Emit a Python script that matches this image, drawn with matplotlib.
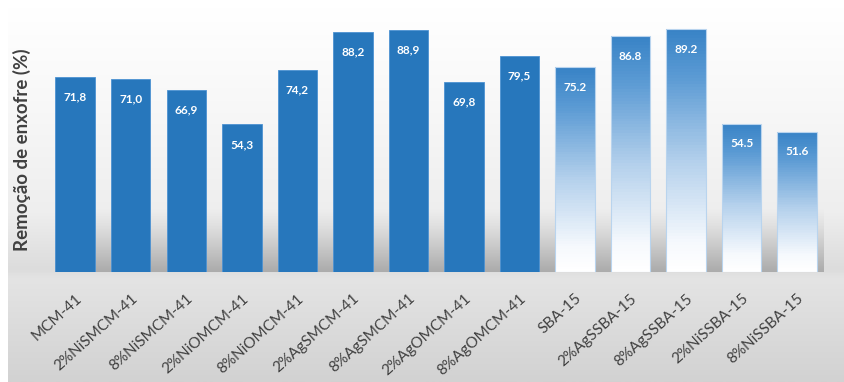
import matplotlib.pyplot as plt
import numpy as np
from matplotlib.colors import LinearSegmentedColormap

# ── Dados ───────────────────────────────────────────────────────────────────
amostras = [
    "MCM-41", "2%NiSMCM-41", "8%NiSMCM-41", "2%NiOMCM-41", "8%NiOMCM-41",
    "2%AgSMCM-41", "8%AgSMCM-41", "2%AgOMCM-41", "8%AgOMCM-41",
    "SBA-15", "2%AgSSBA-15", "8%AgSSBA-15", "2%NiSSBA-15", "8%NiSSBA-15",
]
remocao = [71.8, 71.0, 66.9, 54.3, 74.2, 88.2, 88.9, 69.8, 79.5,
           75.2, 86.8, 89.2, 54.5, 51.6]
rotulos = ["71,8", "71,0", "66,9", "54,3", "74,2", "88,2", "88,9", "69,8", "79,5",
           "75.2", "86.8", "89.2", "54.5", "51.6"]
suporte = ["MCM"] * 9 + ["SBA"] * 5

AZUL = "#2777bc"
CINZA_TXT = "#404040"
plt.rcParams["font.family"] = ["Lato", "DejaVu Sans"]

W, H = 844, 382
fig = plt.figure(figsize=(W / 100, H / 100), dpi=100)
fig.patch.set_facecolor("white")

# ── Fundo em degradê ────────────────────────────────────────────────────────
bg = fig.add_axes([8 / W, 0, (W - 8) / W, (H - 7) / H])
bg.set_axis_off()
cmap_bg = LinearSegmentedColormap.from_list(
    "fundo",
    [(0.0, "#ffffff"), (0.25, "#f8f8f8"), (0.55, "#eeeeee"), (0.70, "#dcdcdc"),
     (0.725, "#e4e4e4"), (1.0, "#d2d2d2")],
)
bg.imshow(np.linspace(0, 1, 400).reshape(-1, 1), aspect="auto", cmap=cmap_bg,
          extent=(0, 1, 0, 1), vmin=0, vmax=1)
bg.set_xlim(0, 1)
bg.set_ylim(0, 1)

# ── Eixo principal ──────────────────────────────────────────────────────────
base_px = 272
escala = 2.72
ymax = 95
x0_px, x1_px = 38, 826
ax = fig.add_axes([x0_px / W, (H - base_px) / H, (x1_px - x0_px) / W,
                   ymax * escala / H])
ax.set_facecolor("none")
for s in ax.spines.values():
    s.set_visible(False)

n = len(amostras)
x = np.arange(n)
larg = 0.71

# sombra projetada atrás das barras
sombra = np.zeros((100, 1, 4))
sombra[..., :3] = 0.42
sombra[:, 0, 3] = np.linspace(0.55, 0.0, 100) ** 1.4
ax.imshow(sombra, aspect="auto", origin="lower",
          extent=(-larg / 2, n - 1 + larg / 2 + 0.12, 0, 24), zorder=1)

# degradê das barras SBA-15 (faixas horizontais finas)
cmap_sba = LinearSegmentedColormap.from_list(
    "sba", [(0.0, "#ffffff"), (0.12, "#f6f9fd"), (0.45, "#b5d1ec"),
            (0.8, "#5c9bd4"), (1.0, "#3883c6")])
nfx = 80
fr = np.linspace(0, 1, nfx + 1)

for xi, v, sup in zip(x, remocao, suporte):
    if sup == "MCM":
        ax.bar(xi, v, width=larg, color=AZUL, edgecolor="#4d92d2",
               linewidth=0.6, zorder=3)
    else:
        ax.bar(np.full(nfx, xi), np.diff(fr) * v, bottom=fr[:-1] * v,
               width=larg, color=cmap_sba((fr[:-1] + fr[1:]) / 2),
               linewidth=0, zorder=3)
        ax.bar(xi, v, width=larg, facecolor="none", edgecolor="#b9d4ee",
               linewidth=0.8, zorder=4)

for xi, v, r in zip(x, remocao, rotulos):
    ax.text(xi, v - 7.4, r, ha="center", va="center", color="white",
            fontsize=8.5, fontweight="bold", zorder=5)

ax.set_xlim(-0.67, n - 1 + 0.52)
ax.set_ylim(0, ymax)
ax.set_yticks([])
ax.set_xticks(x)
ax.set_xticklabels(amostras, rotation=42, ha="right", rotation_mode="anchor",
                   fontsize=11, color=CINZA_TXT)
ax.tick_params(axis="x", length=0, pad=14)

fig.text(22 / W, 1 - 150 / H, "Remoção de enxofre (%)", rotation=90,
         ha="center", va="center", fontsize=13.5, fontweight="bold",
         color=CINZA_TXT)

fig.savefig("out.png", dpi=100)
